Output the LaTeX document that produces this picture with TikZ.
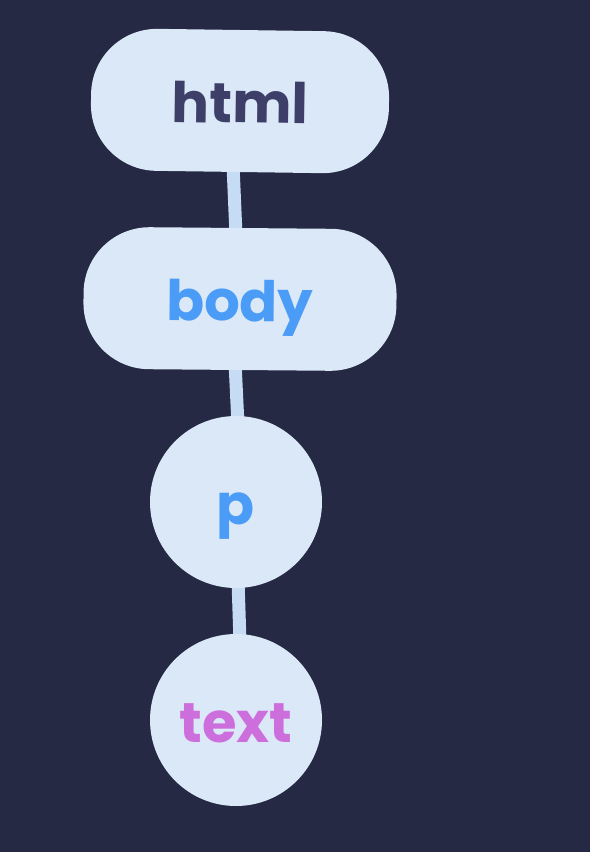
\documentclass[tikz,border=0pt]{standalone}
\usepackage{fontspec}
\setmainfont{Poppins}
\definecolor{bgc}{HTML}{252944}
\definecolor{nodec}{HTML}{DBE8F8}
\definecolor{linkc}{HTML}{C6DCF5}
\definecolor{htmlc}{HTML}{3E3F68}
\definecolor{bluec}{HTML}{4A9CF6}
\definecolor{purc}{HTML}{CC6FDC}
\begin{document}
\begin{tikzpicture}[x=1pt,y=-1pt,
  lbl/.style={inner sep=0pt, text height=44pt, text depth=0pt, font=\fontsize{56}{60}\selectfont\bfseries},
  pill/.style={lbl, fill=nodec, rounded corners=66pt, minimum height=142pt},
  ball/.style={lbl, circle, fill=nodec, minimum size=172pt},
  link/.style={draw=linkc, line width=13pt}]
\fill[bgc] (0,0) rectangle (590,852);
\useasboundingbox (0,0) rectangle (590,852);
\coordinate (a1) at (233,165);
\coordinate (a2) at (236,235);
\coordinate (b1) at (235,362);
\coordinate (b2) at (238,425);
\coordinate (c1) at (238,580);
\coordinate (c2) at (240,642);
\draw[link] (a1) -- (a2);
\draw[link] (b1) -- (b2);
\draw[link] (c1) -- (c2);
\node[pill, minimum width=298pt, rotate=-0.8] (html) at (240,101) {\textcolor{htmlc}{html}};
\node[pill, minimum width=313pt, rotate=-0.5] (body) at (240,299) {\textcolor{bluec}{body}};
\node[ball] (p) at (236,502) {\textcolor{bluec}{p}};
\node[ball] (text) at (236,720) {\textcolor{purc}{text}};
\end{tikzpicture}
\end{document}
